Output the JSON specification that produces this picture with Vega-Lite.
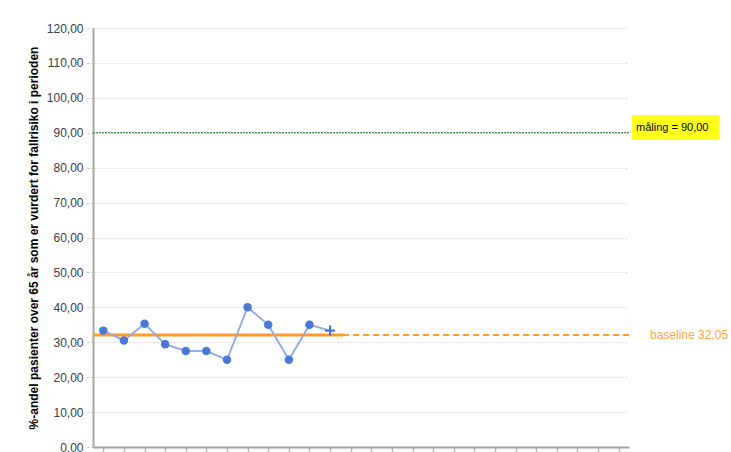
{
  "$schema": "https://vega.github.io/schema/vega-lite/v6.json",
  "width": 536,
  "height": 419,
  "autosize": {"type": "none"},
  "padding": {"left": 93, "top": 28, "right": 102, "bottom": 5},
  "background": "white",
  "config": {
    "view": {"stroke": null},
    "font": "Liberation Sans",
    "axisX": {"tickCount": 26, "labels": false, "grid": false, "domainColor": "#a0a0a0", "domainWidth": 2, "tickColor": "#b8b8b8", "tickSize": 5, "tickWidth": 1.5},
    "axisY": {"tickCount": 12, "labelOverlap": false, "labelBound": false, "labelColor": "#3a3a50", "labelFontSize": 12, "labelPadding": 4, "grid": true, "gridColor": "#d6d6d6", "gridDash": [2, 2], "tickColor": "#c0c0c0", "tickDash": [2, 2], "tickSize": 6, "domainColor": "#a8a8a8", "domainWidth": 2, "titleFontSize": 12, "titleFontWeight": "bold", "titleColor": "#000000", "titlePadding": 6}
  },
  "datasets": {
    "points": [
      {"periode": 1, "verdi": 33.33, "type": "måling"},
      {"periode": 2, "verdi": 30.5, "type": "måling"},
      {"periode": 3, "verdi": 35.29, "type": "måling"},
      {"periode": 4, "verdi": 29.41, "type": "måling"},
      {"periode": 5, "verdi": 27.5, "type": "måling"},
      {"periode": 6, "verdi": 27.5, "type": "måling"},
      {"periode": 7, "verdi": 25.0, "type": "måling"},
      {"periode": 8, "verdi": 40.0, "type": "måling"},
      {"periode": 9, "verdi": 35.0, "type": "måling"},
      {"periode": 10, "verdi": 25.0, "type": "måling"},
      {"periode": 11, "verdi": 35.0, "type": "måling"},
      {"periode": 12, "verdi": 33.33, "type": "siste"}
    ],
    "refs": [
      {"navn": "mål", "verdi": 90, "fra": 0.5, "til": 26.5, "stil": "mål", "tekst": "måling = 90,00"},
      {"navn": "baseline", "verdi": 32.05, "fra": 0.5, "til": 12.63, "stil": "heltrukket", "tekst": ""},
      {"navn": "baseline", "verdi": 32.05, "fra": 12.63, "til": 26.5, "stil": "stiplet", "tekst": "baseline 32,05"}
    ]
  },
  "layer": [
    {
      "data": {"name": "points"},
      "mark": {"type": "line", "color": "#8fa9e8", "strokeWidth": 1.5},
      "encoding": {
        "x": {
          "field": "periode", "type": "quantitative",
          "scale": {"domain": [0.5, 26.5], "nice": false, "zero": false},
          "axis": {"title": null, "tickCount": 26}
        },
        "y": {
          "field": "verdi", "type": "quantitative",
          "scale": {"domain": [0, 120], "nice": false},
          "axis": {
            "tickCount": 12,
            "labelExpr": "replace(format(datum.value, '.2f'), '.', ',')",
            "title": "%-andel pasienter over 65 år som er vurdert for fallrisiko i perioden"
          }
        }
      }
    },
    {
      "data": {"name": "refs"},
      "transform": [{"filter": "datum.stil === 'mål'"}],
      "mark": {"type": "rect", "color": "#ffff1a"},
      "encoding": {
        "x": {"datum": 26.65, "type": "quantitative"},
        "x2": {"datum": 30.87},
        "y": {"datum": 87.9, "type": "quantitative"},
        "y2": {"datum": 95.1}
      }
    },
    {
      "data": {"name": "refs"},
      "transform": [{"filter": "datum.stil === 'mål'"}],
      "mark": {"type": "rule", "color": "#1e7a1e", "strokeWidth": 1, "strokeDash": [2, 1]},
      "encoding": {
        "x": {"field": "fra", "type": "quantitative"},
        "x2": {"field": "til"},
        "y": {"field": "verdi", "type": "quantitative"}
      }
    },
    {
      "data": {"name": "refs"},
      "transform": [{"filter": "datum.stil === 'heltrukket'"}],
      "mark": {"type": "rule", "color": "#ff9a2e", "strokeWidth": 3},
      "encoding": {
        "x": {"field": "fra", "type": "quantitative"},
        "x2": {"field": "til"},
        "y": {"field": "verdi", "type": "quantitative"}
      }
    },
    {
      "data": {"name": "refs"},
      "transform": [{"filter": "datum.stil === 'stiplet'"}],
      "mark": {"type": "rule", "color": "#ff9a2e", "strokeWidth": 2, "strokeDash": [6, 4]},
      "encoding": {
        "x": {"field": "fra", "type": "quantitative"},
        "x2": {"field": "til"},
        "y": {"field": "verdi", "type": "quantitative"}
      }
    },
    {
      "data": {"name": "points"},
      "mark": {"type": "line", "color": "#8fa9e8", "strokeWidth": 1.5},
      "encoding": {
        "x": {"field": "periode", "type": "quantitative"},
        "y": {"field": "verdi", "type": "quantitative"}
      }
    },
    {
      "data": {"name": "points"},
      "transform": [{"filter": "datum.type === 'måling'"}],
      "mark": {"type": "point", "filled": true, "shape": "circle", "size": 72, "color": "#4a78d8", "opacity": 1},
      "encoding": {
        "x": {"field": "periode", "type": "quantitative"},
        "y": {"field": "verdi", "type": "quantitative"}
      }
    },
    {
      "data": {"name": "points"},
      "transform": [{"filter": "datum.type === 'siste'"}],
      "mark": {"type": "point", "filled": false, "shape": "M-1,0L1,0M0,-1L0,1", "size": 100, "stroke": "#4a78d8", "strokeWidth": 2.2, "opacity": 1},
      "encoding": {
        "x": {"field": "periode", "type": "quantitative"},
        "y": {"field": "verdi", "type": "quantitative"}
      }
    },
    {
      "data": {"name": "refs"},
      "transform": [{"filter": "datum.stil === 'mål'"}],
      "mark": {"type": "text", "align": "left", "baseline": "middle", "dx": 7, "dy": -5, "fontSize": 11, "color": "#000000"},
      "encoding": {
        "x": {"field": "til", "type": "quantitative"},
        "y": {"field": "verdi", "type": "quantitative"},
        "text": {"field": "tekst"}
      }
    },
    {
      "data": {"name": "refs"},
      "transform": [{"filter": "datum.stil === 'stiplet'"}],
      "mark": {"type": "text", "align": "left", "baseline": "middle", "dx": 21, "dy": 0, "fontSize": 12, "color": "#ffa640"},
      "encoding": {
        "x": {"field": "til", "type": "quantitative"},
        "y": {"field": "verdi", "type": "quantitative"},
        "text": {"field": "tekst"}
      }
    }
  ]
}
